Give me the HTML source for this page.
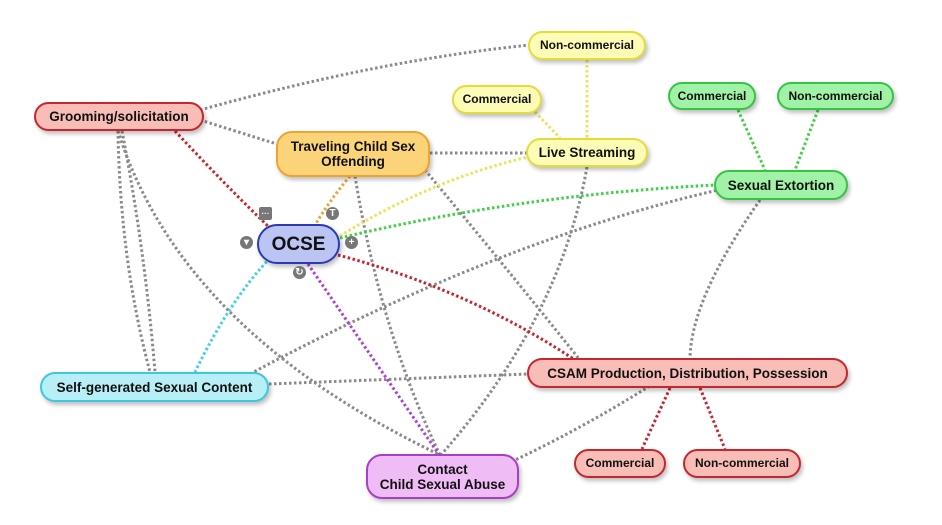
<!DOCTYPE html>
<html><head><meta charset="utf-8"><style>
body{margin:0;background:#fff;width:942px;height:525px;overflow:hidden;font-family:"Liberation Sans",Arial,sans-serif}
.n{position:absolute;box-sizing:border-box;border:2px solid;border-radius:16px;display:flex;align-items:center;justify-content:center;text-align:center;font-weight:bold;font-size:13.5px;line-height:15px;color:#111;box-shadow:2px 3px 4px rgba(0,0,0,.25)}
.y{background:#fdfcb6;border-color:#e3dd3c}
.g{background:#a0f2a6;border-color:#36c445}
.r{background:#f8bdb6;border-color:#c6262e}
.ic{position:absolute;width:13px;height:13px;border-radius:50%;background:#777;color:#fff;font-size:10px;line-height:13px;text-align:center;font-weight:bold}
</style></head><body>
<svg width="942" height="525" style="position:absolute;left:0;top:0" fill="none" stroke-width="3" stroke-dasharray="2.5,2.5">
<g stroke="#8a8a8a">
<path d="M200,110 Q380,60 530,45"/>
<path d="M200,120 L280,145"/>
<path d="M430,153 L528,153"/>
<path d="M122,131 Q145,250 155,372"/>
<path d="M118,131 Q180,330 440,455"/>
<path d="M118,131 Q120,260 150,372"/>
<path d="M269,384 L528,374"/>
<path d="M250,374 Q500,240 718,190"/>
<path d="M355,176 Q380,330 440,455"/>
<path d="M425,170 Q500,260 580,360"/>
<path d="M587,167 Q560,320 440,456"/>
<path d="M760,200 Q690,300 690,360 Q600,420 515,460"/>
</g>
<path d="M175,131 Q230,190 270,228" stroke="#c8242f"/>
<path d="M338,255 Q470,290 575,360" stroke="#c8242f"/>
<path d="M350,176 Q330,200 315,225" stroke="#e8a838"/>
<path d="M340,236 Q430,180 528,157" stroke="#ece35a"/>
<path d="M340,238 Q520,195 715,185" stroke="#3fd046"/>
<path d="M270,258 Q230,300 195,372" stroke="#40d0e8"/>
<path d="M308,264 Q360,340 440,456" stroke="#b040d0"/>
<path d="M587,60 L587,140" stroke="#ece35a"/>
<path d="M535,112 L560,138" stroke="#ece35a"/>
<path d="M738,110 L765,170" stroke="#3fd046"/>
<path d="M818,110 L795,170" stroke="#3fd046"/>
<path d="M670,388 L642,449" stroke="#c8242f"/>
<path d="M700,388 L725,449" stroke="#c8242f"/>
</svg>
<div class="n r" style="left:34px;top:102px;width:170px;height:29px">Grooming/solicitation</div>
<div class="n" style="left:276px;top:131px;width:154px;height:46px;background:#fbd479;border-color:#eea334">Traveling Child Sex<br>Offending</div>
<div class="n y" style="left:528px;top:31px;width:118px;height:29px;font-size:12px">Non-commercial</div>
<div class="n y" style="left:452px;top:85px;width:90px;height:29px;font-size:12px">Commercial</div>
<div class="n y" style="left:526px;top:138px;width:122px;height:29px">Live Streaming</div>
<div class="n g" style="left:668px;top:82px;width:88px;height:28px;font-size:12px">Commercial</div>
<div class="n g" style="left:777px;top:82px;width:117px;height:28px;font-size:12px">Non-commercial</div>
<div class="n g" style="left:714px;top:170px;width:134px;height:30px">Sexual Extortion</div>
<div class="n" style="left:257px;top:224px;width:83px;height:40px;border-radius:20px;background:#bcc4f4;border-color:#2b3ab5;font-size:19px">OCSE</div>
<div class="n" style="left:40px;top:372px;width:229px;height:30px;background:#b8eef6;border-color:#3ec8dd">Self-generated Sexual Content</div>
<div class="n r" style="left:527px;top:358px;width:321px;height:30px">CSAM Production, Distribution, Possession</div>
<div class="n r" style="left:574px;top:449px;width:92px;height:29px;font-size:12px">Commercial</div>
<div class="n r" style="left:683px;top:449px;width:118px;height:29px;font-size:12px">Non-commercial</div>
<div class="n" style="left:366px;top:454px;width:153px;height:45px;background:#efbcf5;border-color:#a93fc6">Contact<br>Child Sexual Abuse</div>
<div class="ic" style="left:259px;top:207px;border-radius:2px;font-size:8px">···</div>
<div class="ic" style="left:326px;top:207px">T</div>
<div class="ic" style="left:240px;top:236px">▾</div>
<div class="ic" style="left:345px;top:236px">+</div>
<div class="ic" style="left:293px;top:266px">↻</div>
</body></html>
